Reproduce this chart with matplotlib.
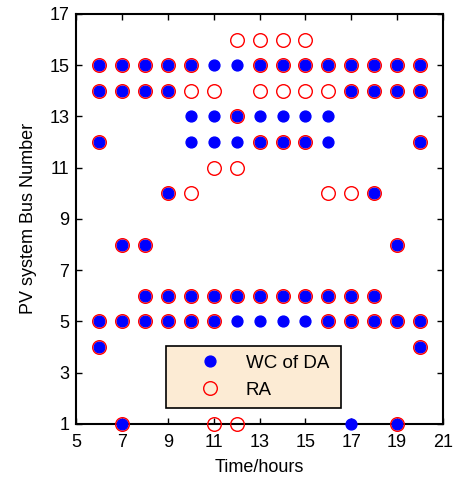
import numpy as np
import matplotlib.pyplot as plt

plt.rcParams['font.family'] = ['Liberation Sans', 'DejaVu Sans']

hours = np.arange(6, 21)

# bus numbers per hour (5 each)
wc_da = [
    [15, 14, 12, 5, 4],
    [15, 14, 8, 5, 1],
    [15, 14, 8, 6, 5],
    [15, 14, 10, 6, 5],
    [15, 13, 12, 6, 5],
    [15, 13, 12, 6, 5],
    [15, 13, 12, 6, 5],
    [15, 13, 12, 6, 5],
    [15, 13, 12, 6, 5],
    [15, 13, 12, 6, 5],
    [15, 13, 12, 6, 5],
    [15, 14, 6, 5, 1],
    [15, 14, 10, 6, 5],
    [15, 14, 8, 5, 1],
    [15, 14, 12, 5, 4],
]
ra = [
    [15, 14, 12, 5, 4],
    [15, 14, 8, 5, 1],
    [15, 14, 8, 6, 5],
    [15, 14, 10, 6, 5],
    [15, 14, 10, 6, 5],
    [14, 11, 6, 5, 1],
    [16, 13, 11, 6, 1],
    [16, 15, 14, 12, 6],
    [16, 15, 14, 12, 6],
    [16, 15, 14, 12, 6],
    [15, 14, 10, 6, 5],
    [15, 14, 10, 6, 5],
    [15, 14, 10, 6, 5],
    [15, 14, 8, 5, 1],
    [15, 14, 12, 5, 4],
]

xd = np.repeat(hours, 5)
yd = np.array(wc_da).ravel()
xr = np.repeat(hours, 5)
yr = np.array(ra).ravel()

fig = plt.figure(figsize=(4.53, 4.79), dpi=100)
ax = fig.add_axes([0.168, 0.115, 0.81, 0.856])

ax.plot(xd, yd, 'o', color='blue', markersize=7.8, linestyle='none',
        label='WC of DA', clip_on=False, zorder=3)
ax.plot(xr, yr, 'o', markerfacecolor='none', markeredgecolor='red',
        markersize=9.8, markeredgewidth=1.0, linestyle='none',
        label='RA', clip_on=False, zorder=4)

ax.set_xlim(5, 21)
ax.set_ylim(1, 17)
ax.set_xticks(np.arange(5, 22, 2))
ax.set_yticks(np.arange(1, 18, 2))
ax.tick_params(direction='in', top=True, right=True, labelsize=13, length=4, width=1)
ax.tick_params(axis='x', pad=7)
ax.tick_params(axis='y', pad=5)
for s in ax.spines.values():
    s.set_linewidth(1.5)
ax.set_xlabel('Time/hours', fontsize=13, labelpad=6)
ax.set_ylabel('PV system Bus Number', fontsize=13, labelpad=9)

leg = ax.legend(loc='lower left', bbox_to_anchor=(0.245, 0.039, 0.477, 0.154),
                mode='expand', fontsize=13.5, fancybox=False, framealpha=1,
                borderaxespad=0, borderpad=0.5, handlelength=3.7,
                handletextpad=0.05, labelspacing=0.5)
leg.get_frame().set_facecolor('#FCEBD4')
leg.get_frame().set_edgecolor('black')
leg.get_frame().set_linewidth(1.2)

fig.savefig('out.png', dpi=100)
